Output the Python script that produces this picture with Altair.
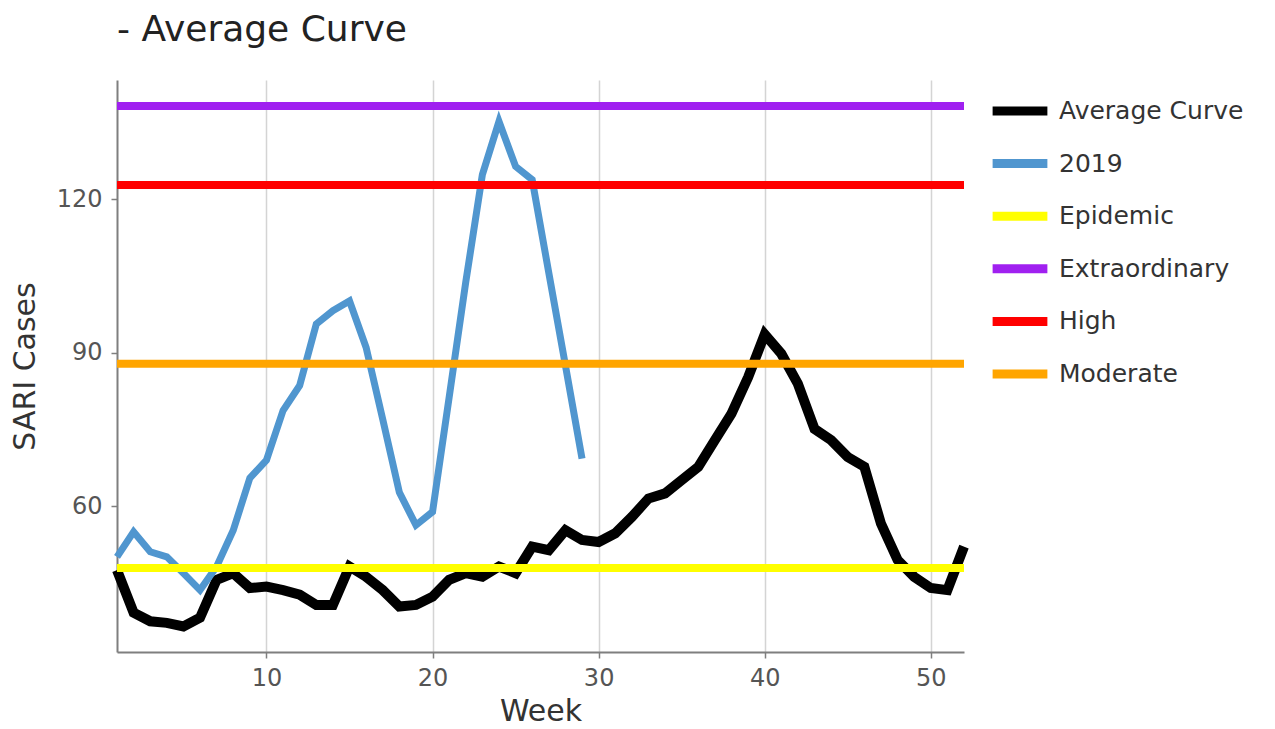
import altair as alt
import pandas as pd

weeks = list(range(1, 53))
avg_curve = [47.5, 39.2, 37.5, 37.2, 36.5, 38.2, 45.6, 46.9, 44.0, 44.3,
             43.6, 42.7, 40.7, 40.7, 48.2, 46.2, 43.6, 40.4, 40.7, 42.3,
             45.6, 46.9, 46.2, 48.2, 46.9, 52.1, 51.4, 55.3, 53.4, 53.0,
             54.7, 57.9, 61.5, 62.5, 65.1, 67.7, 72.9, 78.1, 85.2, 93.6,
             89.8, 83.9, 75.1, 72.9, 69.6, 67.7, 56.6, 49.5, 46.2, 44.0,
             43.6, 52.1]
weeks_2019 = list(range(1, 30))
cases_2019 = [50.1, 55.0, 51.1, 50.1, 46.9, 43.6, 48.2, 55.3, 65.5, 69.0,
              78.7, 83.6, 95.6, 98.2, 100.1, 91.0, 77.0, 62.7, 56.3, 58.9,
              81.3, 103.8, 124.8, 135.2, 126.4, 123.8, 105.6, 87.5, 69.3]
threshold_names = ["Epidemic", "Extraordinary", "High", "Moderate"]
threshold_values = [47.9, 138.2, 122.8, 87.85]
series_order = ["Average Curve", "2019", "Epidemic", "Extraordinary", "High", "Moderate"]
series_colors = ["#000000", "#5096cf", "#ffff00", "#a020f0", "#ff0000", "#ffa500"]
x_ticks = [10, 20, 30, 40, 50]
y_ticks = [60, 90, 120]

avg_df = pd.DataFrame({"Week": weeks, "Cases": avg_curve, "Series": "Average Curve"})
y19_df = pd.DataFrame({"Week": weeks_2019, "Cases": cases_2019, "Series": "2019"})
thr_rows = []
for n, v in zip(threshold_names, threshold_values):
    for w in (weeks[0], weeks[-1]):
        thr_rows.append({"Week": w, "Cases": v, "Series": n})
thr_df = pd.DataFrame(thr_rows)

FONT = "DejaVu Sans"

color = alt.Color(
    "Series:N",
    scale=alt.Scale(domain=series_order, range=series_colors),
    sort=series_order,
    legend=alt.Legend(
        title=None,
        orient="none",
        legendX=871,
        legendY=-1,
        symbolType="stroke",
        symbolSize=3000,
        symbolStrokeWidth=9,
        labelFontSize=25,
        labelFont=FONT,
        labelColor="#333333",
        labelOffset=7,
        labelLimit=0,
        rowPadding=2.6,
    ),
)
x = alt.X(
    "Week:Q",
    scale=alt.Scale(domain=[1, 52], nice=False, zero=False),
    axis=alt.Axis(values=x_ticks, title="Week", grid=True, labelPadding=8, titlePadding=6),
)
y = alt.Y(
    "Cases:Q",
    scale=alt.Scale(domain=[31.5, 143.3], nice=False, zero=False),
    axis=alt.Axis(values=y_ticks, title="SARI Cases", grid=False, labelPadding=9, titlePadding=16),
)

avg_line = alt.Chart(avg_df).mark_line(strokeWidth=10).encode(x=x, y=y, color=color)
y19_line = alt.Chart(y19_df).mark_line(strokeWidth=7).encode(x=x, y=y, color=color)
thr_line = alt.Chart(thr_df).mark_line(strokeWidth=8).encode(x=x, y=y, color=color, detail="Series:N")

chart = (
    alt.layer(avg_line, y19_line, thr_line)
    .properties(
        width=847,
        height=572,
        autosize=alt.AutoSizeParams(type="none"),
        padding={"left": 109, "top": 72, "right": 300, "bottom": 76},
        background="white",
        title=alt.TitleParams(
            "- Average Curve",
            anchor="start",
            frame="group",
            font=FONT,
            fontSize=36,
            fontWeight="normal",
            color="#222222",
            offset=30,
        ),
    )
    .configure_view(stroke=None)
    .configure_axis(
        labelFont=FONT,
        labelFontSize=24,
        labelColor="#555555",
        titleFont=FONT,
        titleFontSize=30,
        titleFontWeight="normal",
        titleColor="#333333",
        domainColor="#7f7f7f",
        domainWidth=2,
        tickColor="#7f7f7f",
        tickSize=6,
        tickWidth=1.5,
        gridColor="#d4d4d4",
        gridWidth=1.5,
    )
)

chart.save("out.html", embed_options={"renderer": "svg", "actions": False})
